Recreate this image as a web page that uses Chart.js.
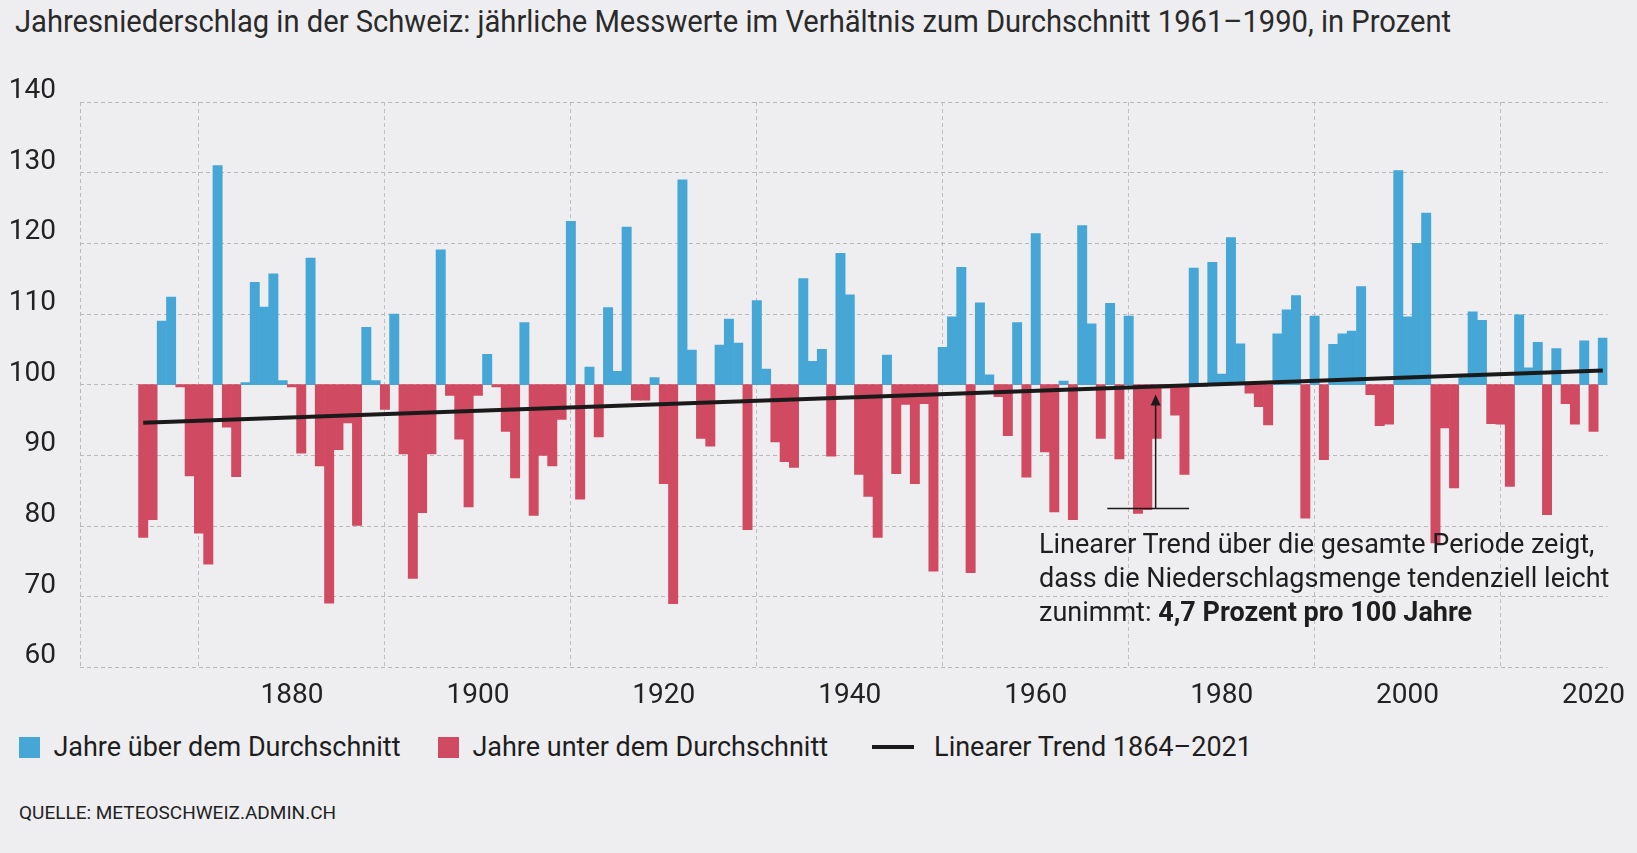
<!DOCTYPE html>
<html>
<head>
<meta charset="utf-8">
<script src="https://cdn.jsdelivr.net/npm/chart.js@4"></script>
<style>
  body { margin: 0; background: #eeeef0; font-family: Roboto, sans-serif; color: #222; }
  #wrap { position: relative; width: 1637px; height: 853px; overflow: hidden; }
  #title { position: absolute; left: 15px; top: 3px; font-size: 31px; color: #2a2a2a; white-space: nowrap;
           transform: scaleX(0.94); transform-origin: left top; }
  #box { position: absolute; left: 0; top: 0; width: 1637px; height: 725px; }
  .note { position: absolute; left: 1039px; top: 527px; font-size: 27px; line-height: 34px; color: #1e1e1e; }
  .legend { position: absolute; top: 731px; left: 19px; font-size: 27px; color: #1e1e1e; }
  .legend span { position: absolute; white-space: nowrap; top: 0; }
  .sw { display: inline-block; width: 21px; height: 21px; vertical-align: -2px; }
  #src { position: absolute; left: 19px; top: 801px; font-size: 19px; color: #222; }
</style>
</head>
<body>
<div id="wrap">
  <div id="title">Jahresniederschlag in der Schweiz: jährliche Messwerte im Verhältnis zum Durchschnitt 1961–1990, in Prozent</div>
  <div id="box"><canvas id="chartRegen"></canvas></div>
  <div class="note">Linearer Trend über die gesamte Periode zeigt,<br>dass die Niederschlagsmenge tendenziell leicht<br>zunimmt: <b>4,7 Prozent pro 100 Jahre</b></div>
  <div class="legend">
    <span style="left:0"><i class="sw" style="background:#46a7d6"></i>&nbsp; Jahre über dem Durchschnitt</span>
    <span style="left:419px"><i class="sw" style="background:#d04a62"></i>&nbsp; Jahre unter dem Durchschnitt</span>
    <span style="left:853px"><i class="sw" style="background:#1a1a1a;height:4px;width:42px;vertical-align:7px"></i>&nbsp;&nbsp; Linearer Trend 1864–2021</span>
  </div>
  <div id="src">QUELLE: METEOSCHWEIZ.ADMIN.CH</div>
</div>
<script>
/* =========================================================
   DATEN
========================================================= */
const firstYear = 1864;
const niederschlag = [
  78.4, 80.9, 109, 112.4, 99.7, 87.1, 79, 74.6, 131, 94,
  87, 100.3, 114.5, 111, 115.7, 100.6, 99.7, 90.3, 117.9, 88.5,
  69.1, 90.8, 94.6, 80.1, 108.1, 100.6, 96.5, 110, 90.2, 72.6,
  81.9, 90.2, 119.1, 98.5, 92.3, 82.7, 98.5, 104.3, 99.7, 93.4,
  86.8, 108.8, 81.5, 90, 88.5, 95.1, 123.1, 83.8, 102.5, 92.6,
  110.9, 101.9, 122.3, 97.8, 97.8, 101, 86, 69, 129, 104.9,
  92.4, 91.3, 105.6, 109.3, 105.9, 79.5, 111.9, 102.2, 91.9, 89.1,
  88.3, 115, 103.3, 105, 89.9, 118.6, 112.7, 87.3, 84.2, 78.4,
  104.2, 87.4, 97.2, 86, 97.3, 73.6, 105.3, 109.6, 116.6, 73.4,
  111.6, 101.4, 98.3, 92.8, 108.8, 86.9, 121.4, 90.5, 82, 100.5,
  80.9, 122.5, 108.6, 92.4, 111.5, 89.5, 109.7, 81.8, 82.3, 92.4,
  99.5, 95.7, 87.3, 116.5, 99.8, 117.3, 101.5, 120.8, 105.8, 98.8,
  96.9, 94.3, 107.2, 110.6, 112.6, 81.1, 109.7, 89.4, 105.7, 107.2,
  107.6, 113.9, 98.6, 94.2, 94.4, 130.3, 109.6, 120, 124.3, 77.6,
  93.9, 85.4, 101, 110.3, 109.1, 94.5, 94.4, 85.6, 109.9, 102.4,
  106, 81.6, 105.1, 97.3, 94.4, 106.2, 93.4, 106.6
];
const jahre = niederschlag.map((v, i) => firstYear + i);
const trendJahre = [1864, 2021];
const trendWerte = [94.6, 102.0];
const yTicks = [60, 70, 80, 90, 100, 110, 120, 130, 140];
const xTicks = [1880, 1900, 1920, 1940, 1960, 1980, 2000, 2020];

const BLAU = "#46a7d6";
const ROT = "#d04a62";
const FONT = 'Roboto, sans-serif';

/* y-Beschriftung auf der Linie + Pfeil zur Trendlinie */
const extras = {
    id: "extras",
    afterDraw(chart) {
        const { ctx, chartArea, scales: { x, y } } = chart;
        ctx.save();
        // linke Rahmenlinie (gestrichelt)
        ctx.strokeStyle = "#b8b8bd";
        ctx.setLineDash([4, 3]);
        ctx.beginPath();
        ctx.moveTo(chartArea.left + 0.5, chartArea.top);
        ctx.lineTo(chartArea.left + 0.5, chartArea.bottom);
        ctx.stroke();
        ctx.setLineDash([]);

        ctx.fillStyle = "#222";
        ctx.font = "28px " + FONT;
        ctx.textAlign = "right";
        ctx.textBaseline = "alphabetic";
        yTicks.forEach(t => ctx.fillText(String(t), 56, y.getPixelForValue(t) - 4));

        // Pfeil
        const ax = x.getPixelForValue(1972.9);
        const yBot = y.getPixelForValue(82.5);
        const yTop = y.getPixelForValue(98.6);
        ctx.strokeStyle = "#1a1a1a";
        ctx.lineWidth = 1.5;
        ctx.beginPath();
        ctx.moveTo(ax, yBot); ctx.lineTo(ax, yTop + 8);
        ctx.moveTo(x.getPixelForValue(1967.7), yBot); ctx.lineTo(x.getPixelForValue(1976.5), yBot);
        ctx.stroke();
        ctx.fillStyle = "#1a1a1a";
        ctx.beginPath();
        ctx.moveTo(ax, yTop); ctx.lineTo(ax - 5, yTop + 11); ctx.lineTo(ax + 5, yTop + 11);
        ctx.closePath(); ctx.fill();
        ctx.restore();
    }
};

new Chart(document.getElementById("chartRegen"), {
    type: "bar",
    data: {
        datasets: [{
            type: "line",
            data: trendJahre.map((j, i) => ({ x: j, y: trendWerte[i] })),
            borderColor: "#1a1a1a",
            borderWidth: 4,
            pointRadius: 0,
            order: 0
        }, {
            data: jahre.map((j, i) => ({ x: j, y: [100, niederschlag[i]] })),
            backgroundColor: niederschlag.map(v => v >= 100 ? BLAU : ROT),
            barPercentage: 1,
            categoryPercentage: 1,
            borderWidth: 0,
            order: 1
        }]
    },
    options: {
        responsive: true,
        maintainAspectRatio: false,
        animation: false,
        layout: { padding: { left: 80, right: 0, top: 102, bottom: 0 } },
        plugins: { legend: { display: false }, tooltip: { enabled: false } },
        scales: {
            x: {
                type: "linear",
                offset: false,
                min: 1857.2,
                max: 2021.5,
                afterBuildTicks: axis => { axis.ticks = xTicks.map(v => ({ value: v })); },
                ticks: {
                    color: "#222",
                    padding: 12,
                    maxRotation: 0,
                    font: { size: 28, family: FONT },
                    callback: v => String(v)
                },
                grid: { color: "#bdbdc2", lineWidth: 1, drawTicks: false },
                border: { display: false, dash: [4, 3] }
            },
            y: {
                min: 60,
                max: 140,
                afterBuildTicks: axis => { axis.ticks = yTicks.map(v => ({ value: v })); },
                ticks: { display: false },
                grid: { color: "#b8b8bd", lineWidth: 1, drawTicks: false },
                border: { display: false, dash: [4, 3] }
            }
        }
    },
    plugins: [extras]
});
</script>
</body>
</html>
